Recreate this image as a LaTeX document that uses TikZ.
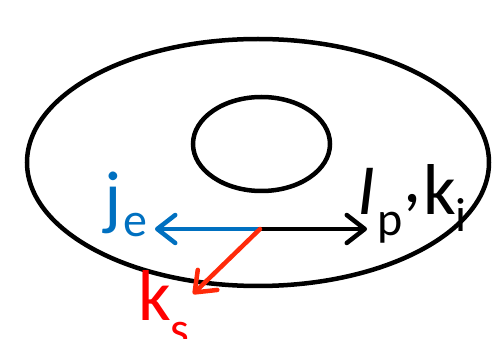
\documentclass[tikz,border=0pt]{standalone}
\usepackage{fontspec}
\setmainfont{Carlito}
\usetikzlibrary{arrows.meta,shapes.geometric}
\definecolor{jblue}{HTML}{0070C0}
\definecolor{kred}{HTML}{FF0000}
\definecolor{ared}{HTML}{FF2A0A}
\begin{document}
\begin{tikzpicture}[x=1pt,y=-1pt,
  ring/.style={draw=black,line width=4.5pt,ellipse,inner sep=0pt},
  vec/.style={line width=4.5pt,line cap=round,-{Straight Barb[length=18pt,width=28pt,line join=round,line cap=round]}},
  lab/.style={inner sep=0pt,anchor=base west},
  big/.style={font=\fontsize{72}{72}\selectfont},
  small/.style={font=\fontsize{48}{48}\selectfont}]
\useasboundingbox (0,0) rectangle (493,339);
\node[ring,minimum width=462pt,minimum height=247pt] (outer) at (258,162.5) {};
\node[ring,minimum width=137pt,minimum height=94pt] (inner) at (261.5,144) {};
\coordinate (o) at (260,229);
\coordinate (tb) at (155,229);
\coordinate (tr) at (367,229);
\coordinate (ts) at (193,294);
\draw[vec,draw=jblue] (o) -- (tb);
\draw[vec,draw=black] (o) -- (tr);
\draw[vec,draw=ared] (o) -- (ts);
\node[lab,big,text=jblue] (j) at (104,222) {j};
\node[lab,small,text=jblue] (e) at (123,237) {e};
\node[lab,big,text=kred] (k) at (138,320) {k};
\node[lab,small,text=kred] (s) at (170,345) {s};
\node[lab,big] (I) at (357,215) {\itshape I};
\node[lab,small] (p) at (377,236) {p};
\node[lab,big] (c) at (403,203) {,};
\node[lab,big] (k2) at (423,215) {k};
\node[lab,small] (i) at (455,232) {i};
\end{tikzpicture}
\end{document}
